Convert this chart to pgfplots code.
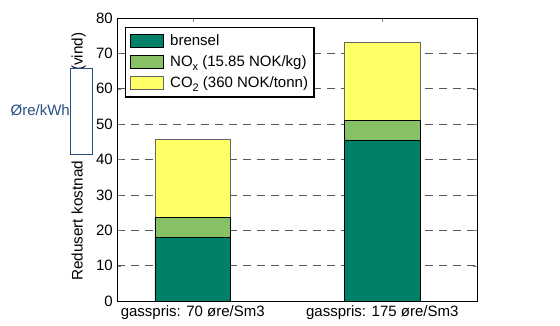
\documentclass[border=0pt]{standalone}
\usepackage{pgfplots}
\pgfplotsset{compat=1.18}
\usepackage{fontspec}
\setmainfont{Liberation Sans}
\definecolor{brensel}{RGB}{0,128,102}
\definecolor{nox}{RGB}{134,193,102}
\definecolor{cotwo}{RGB}{255,255,102}
\definecolor{annblue}{RGB}{38,78,130}
\newcommand{\sub}[1]{\raisebox{-4pt}{\fontsize{11}{11}\selectfont #1}}
\begin{document}
\fontsize{15}{17}\selectfont
\begin{tikzpicture}
\useasboundingbox (0pt,0pt) rectangle (560pt,325pt);
\begin{axis}[
  at={(117pt,24pt)}, anchor=south west,
  width=360pt, height=283pt, scale only axis,
  ybar stacked, bar width=0.4,
  xmin=-0.4, xmax=1.5, ymin=0, ymax=80,
  xtick={0,1}, xticklabels={gasspris: 70 øre/Sm3, gasspris: 175 øre/Sm3},
  ytick={0,10,...,80},
  tick align=inside, major tick length=4pt,
  xtick pos=upper,
  xticklabel pos=lower,
  ymajorgrids,
  grid style={dashed, black!65, dash pattern=on 8pt off 6pt, line width=0.6pt},
  ylabel={Redusert kostnad [NOK/MWh] (vind)},
  ylabel style={at={(axis description cs:-0.072,0.5)}, anchor=south, xshift=2.8pt},
  /pgf/number format/assume math mode=true,
  tick label style={font=\fontsize{15}{17}\selectfont, black},
  yticklabel style={xshift=1pt},
  xticklabel style={yshift=1pt},
  label style={font=\fontsize{15.3}{17}\selectfont},
  axis line style={line width=0.8pt},
  legend style={at={(axis description cs:0,1)}, anchor=north west,
    xshift=8pt, yshift=-9pt,
    draw=black, line width=1.2pt, font=\fontsize{15}{17}\selectfont,
    row sep=4pt, column sep=5pt, inner xsep=4pt, inner ysep=5pt, cells={anchor=west}},
  legend cell align=left,
  legend image code/.code={\draw[#1, line width=0.6pt] (0pt,-6pt) rectangle (33pt,7pt);},
]
\addplot[fill=brensel, draw=black, line width=0.6pt] coordinates {(0,18.0) (1,45.5)};
\addplot[fill=nox, draw=black, line width=0.6pt] coordinates {(0,5.7) (1,5.5)};
\addplot[fill=cotwo, draw=black!60, line width=0.6pt] coordinates {(0,22.0) (1,22.0)};
\legend{brensel, NO\sub{x} (15.85 NOK/kg), CO\sub{2} (360 NOK/tonn)}
\end{axis}
\draw[annblue, fill=white, line width=0.7pt] (70pt,171pt) rectangle (92pt,257pt);
\node[anchor=east, text=annblue, font=\fontsize{15}{17}\selectfont, inner sep=0pt] at (70pt,215pt) {Øre/kWh};
\end{tikzpicture}
\end{document}
